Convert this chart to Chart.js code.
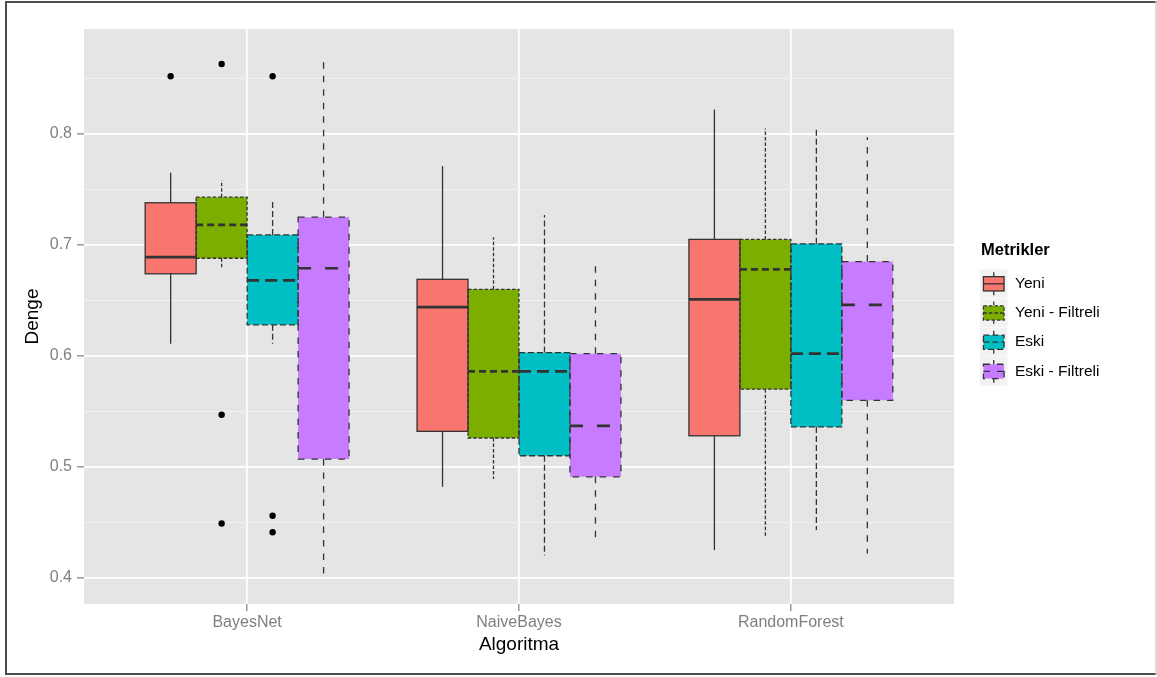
<!DOCTYPE html>
<html>
<head>
<meta charset="utf-8">
<script src="https://cdn.jsdelivr.net/npm/chart.js@4.4.1/dist/chart.umd.min.js"></script>
<style>
  html, body { margin: 0; padding: 0; background: #fff; }
  #wrap { width: 1157px; height: 677px; position: relative; }
</style>
</head>
<body>
<div id="wrap"><canvas id="Graphic_box"></canvas></div>
<script>
// categories and groups
var categories = ['BayesNet', 'NaiveBayes', 'RandomForest'];
var metrics = ['Yeni', 'Yeni - Filtreli', 'Eski', 'Eski - Filtreli'];

// Yeni
var yeniLow = [0.611, 0.482, 0.425];
var yeniQ1 = [0.674, 0.532, 0.528];
var yeniMed = [0.689, 0.644, 0.651];
var yeniQ3 = [0.738, 0.669, 0.705];
var yeniHigh = [0.765, 0.771, 0.822];
var yeniOut = [[0.852], [], []];

// Yeni - Filtreli
var yeniFLow = [0.679, 0.489, 0.436];
var yeniFQ1 = [0.688, 0.526, 0.570];
var yeniFMed = [0.718, 0.586, 0.678];
var yeniFQ3 = [0.743, 0.660, 0.705];
var yeniFHigh = [0.758, 0.707, 0.805];
var yeniFOut = [[0.863, 0.547, 0.449], [], []];

// Eski
var eskiLow = [0.611, 0.420, 0.443];
var eskiQ1 = [0.628, 0.510, 0.536];
var eskiMed = [0.668, 0.586, 0.602];
var eskiQ3 = [0.709, 0.603, 0.701];
var eskiHigh = [0.740, 0.727, 0.806];
var eskiOut = [[0.852, 0.456, 0.441], [], []];

// Eski - Filtreli
var eskiFLow = [0.400, 0.432, 0.422];
var eskiFQ1 = [0.507, 0.491, 0.560];
var eskiFMed = [0.679, 0.537, 0.646];
var eskiFQ3 = [0.725, 0.602, 0.685];
var eskiFHigh = [0.871, 0.683, 0.797];
var eskiFOut = [[], [], []];

// y axis ticks (major labelled, minor only grid)
var yTicks = [0.4, 0.45, 0.5, 0.55, 0.6, 0.65, 0.7, 0.75, 0.8, 0.85];

var colors = ['#F8766D', '#7CAE00', '#00BFC4', '#C77CFF'];
var dashes = [[], [3.5, 2], [6, 3], [6.5, 7]];

var boxes = [
  { low: yeniLow, q1: yeniQ1, med: yeniMed, q3: yeniQ3, high: yeniHigh, out: yeniOut },
  { low: yeniFLow, q1: yeniFQ1, med: yeniFMed, q3: yeniFQ3, high: yeniFHigh, out: yeniFOut },
  { low: eskiLow, q1: eskiQ1, med: eskiMed, q3: eskiQ3, high: eskiHigh, out: eskiOut },
  { low: eskiFLow, q1: eskiFQ1, med: eskiFMed, q3: eskiFQ3, high: eskiFHigh, out: eskiFOut }
];

function isMajor(v) {
  return Math.abs(v * 10 - Math.round(v * 10)) < 1e-6;
}

function seg(ctx, x1, y1, x2, y2) {
  ctx.beginPath();
  ctx.moveTo(x1, y1);
  ctx.lineTo(x2, y2);
  ctx.stroke();
}

var panelBg = {
  id: 'panelBg',
  beforeDraw: function (chart) {
    var a = chart.chartArea, ctx = chart.ctx;
    ctx.save();
    ctx.fillStyle = '#E5E5E5';
    ctx.fillRect(a.left, a.top, a.right - a.left, a.bottom - a.top);
    ctx.restore();
  }
};

// whiskers, outlines, medians and outliers on top of the floating bars
var boxParts = {
  id: 'boxParts',
  afterDatasetsDraw: function (chart) {
    var ctx = chart.ctx, y = chart.scales.y;
    chart.data.datasets.forEach(function (ds, k) {
      var s = boxes[k];
      chart.getDatasetMeta(k).data.forEach(function (bar, i) {
        var p = bar.getProps(['x', 'width'], true);
        var left = p.x - p.width / 2, right = p.x + p.width / 2;
        var top = y.getPixelForValue(s.q3[i]), bottom = y.getPixelForValue(s.q1[i]);
        ctx.save();
        ctx.strokeStyle = '#333333';
        ctx.lineWidth = 1.3;
        ctx.setLineDash(dashes[k]);
        seg(ctx, p.x, top, p.x, y.getPixelForValue(s.high[i]));
        seg(ctx, p.x, bottom, p.x, y.getPixelForValue(s.low[i]));
        ctx.strokeRect(left, top, right - left, bottom - top);
        ctx.lineWidth = 2.7;
        ctx.setLineDash(dashes[k].map(function (d) { return d * 2; }));
        var ym = y.getPixelForValue(s.med[i]);
        seg(ctx, left, ym, right, ym);
        ctx.restore();

        ctx.save();
        ctx.fillStyle = '#000';
        s.out[i].forEach(function (v) {
          ctx.beginPath();
          ctx.arc(p.x, y.getPixelForValue(v), 3.2, 0, Math.PI * 2);
          ctx.fill();
        });
        ctx.restore();
      });
    });
  }
};

var legendAndFrame = {
  id: 'legendAndFrame',
  afterDraw: function (chart) {
    var ctx = chart.ctx;
    var lx = 980, kw = 27.5, kh = 28.6, ky0 = 269.5, pitch = 29.2;
    ctx.save();
    ctx.fillStyle = '#000';
    ctx.textBaseline = 'alphabetic';
    ctx.font = 'bold 16.5px "Liberation Sans", Arial, sans-serif';
    ctx.fillText('Metrikler', 981, 255);
    ctx.font = '15.5px "Liberation Sans", Arial, sans-serif';
    ctx.textBaseline = 'middle';
    metrics.forEach(function (m, k) {
      var t = ky0 + k * pitch;
      ctx.fillStyle = '#F2F2F2';
      ctx.fillRect(lx, t, kw, kh);
      var cx = lx + kw / 2;
      ctx.fillStyle = colors[k];
      ctx.fillRect(lx + 0.125 * kw, t + 0.25 * kh, 0.75 * kw, 0.5 * kh);
      ctx.strokeStyle = '#333333';
      ctx.lineWidth = 1.3;
      ctx.setLineDash(dashes[k]);
      ctx.strokeRect(lx + 0.125 * kw, t + 0.25 * kh, 0.75 * kw, 0.5 * kh);
      seg(ctx, cx, t + 0.1 * kh, cx, t + 0.25 * kh);
      seg(ctx, cx, t + 0.75 * kh, cx, t + 0.9 * kh);
      seg(ctx, lx + 0.125 * kw, t + 0.5 * kh, lx + 0.875 * kw, t + 0.5 * kh);
      ctx.setLineDash([]);
      ctx.fillStyle = '#000';
      ctx.fillText(m, 1015, t + kh / 2);
    });
    // outer frame
    ctx.strokeStyle = '#4d4d4d';
    ctx.lineWidth = 2;
    seg(ctx, 6, 1, 6, 675);
    seg(ctx, 5, 2, 1157, 2);
    seg(ctx, 5, 674, 1157, 674);
    ctx.strokeStyle = '#cccccc';
    ctx.lineWidth = 1.5;
    seg(ctx, 1156, 1, 1156, 675);
    ctx.restore();
  }
};

var datasets = metrics.map(function (m, k) {
  return {
    label: m,
    data: categories.map(function (c, i) {
      return { x: i + 1, y: [boxes[k].q1[i], boxes[k].q3[i]] };
    }),
    backgroundColor: colors[k],
    borderWidth: 0,
    categoryPercentage: 0.75,
    barPercentage: 1
  };
});

var box = document.getElementById('Graphic_box').getContext('2d');
var myBoxChart = new Chart(box, {
  type: 'bar',
  data: { datasets: datasets },
  plugins: [panelBg, boxParts, legendAndFrame],
  options: {
    responsive: true,
    maintainAspectRatio: false,
    animation: false,
    events: [],
    layout: { padding: { left: 0, top: 29, right: 203, bottom: 0 } },
    plugins: { legend: { display: false }, tooltip: { enabled: false } },
    scales: {
      x: {
        type: 'linear',
        min: 0.4,
        max: 3.6,
        offset: false,
        afterBuildTicks: function (s) {
          s.ticks = categories.map(function (c, i) { return { value: i + 1 }; });
        },
        afterFit: function (s) { s.height = 73; },
        border: { display: false },
        grid: {
          offset: false,
          color: '#ffffff',
          lineWidth: 1.7,
          tickColor: '#7f7f7f',
          tickWidth: 1.2,
          tickLength: 7
        },
        ticks: {
          autoSkip: false,
          maxRotation: 0,
          padding: 2,
          color: '#7f7f7f',
          font: { family: '"Liberation Sans", Arial, sans-serif', size: 16 },
          callback: function (v) { return categories[Math.round(v) - 1]; }
        },
        title: {
          display: true,
          text: 'Algoritma',
          color: '#000',
          padding: { top: 0, bottom: 20.6 },
          font: { family: '"Liberation Sans", Arial, sans-serif', size: 19 }
        }
      },
      y: {
        min: 0.3764,
        max: 0.8946,
        afterBuildTicks: function (s) {
          s.ticks = yTicks.map(function (v) { return { value: v }; });
        },
        afterFit: function (s) { s.width = 84; },
        border: { display: false },
        grid: {
          color: function (c) { return isMajor(c.tick.value) ? '#ffffff' : '#F2F2F2'; },
          lineWidth: function (c) { return isMajor(c.tick.value) ? 1.7 : 0.9; },
          tickColor: function (c) { return isMajor(c.tick.value) ? '#7f7f7f' : 'rgba(0,0,0,0)'; },
          tickWidth: 1.2,
          tickLength: 7
        },
        ticks: {
          autoSkip: false,
          padding: 5,
          color: '#7f7f7f',
          font: { family: '"Liberation Sans", Arial, sans-serif', size: 16 },
          callback: function (v) { return isMajor(v) ? v.toFixed(1) : ''; }
        },
        title: {
          display: true,
          text: 'Denge',
          color: '#000',
          padding: { top: 21.6, bottom: 0 },
          font: { family: '"Liberation Sans", Arial, sans-serif', size: 19 }
        }
      }
    }
  }
});
</script>
</body>
</html>
